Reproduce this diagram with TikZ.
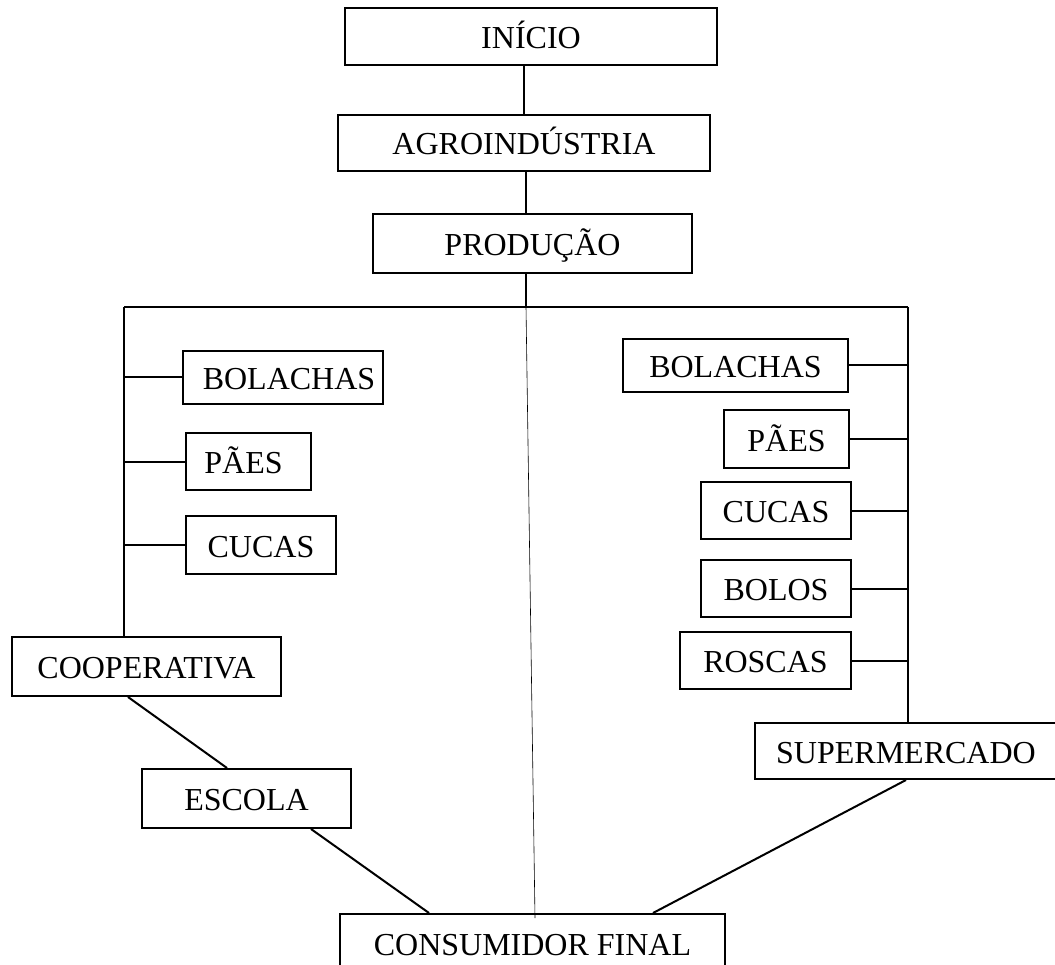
\documentclass[tikz,border=0pt]{standalone}
\usepackage{fontspec}
\setmainfont{Liberation Serif}
\tikzset{
  caixa/.style={draw, line width=2pt, inner sep=0pt, text height=24pt, text depth=0pt,
    font=\fontsize{32}{36}\selectfont},
  liga/.style={line width=2pt},
  fina/.style={line width=0.6pt}
}
\begin{document}
\begin{tikzpicture}[x=1pt, y=-1pt]
\useasboundingbox (0,0) rectangle (1055,965);
\clip (0,0) rectangle (1055,965);
% coluna central
\node[caixa, minimum width=372pt, minimum height=57pt] (inicio) at (531,36.5) {INÍCIO};
\node[caixa, minimum width=372pt, minimum height=56pt] (agro) at (524,143) {AGROINDÚSTRIA};
\node[caixa, minimum width=319pt, minimum height=59pt] (prod) at (532.5,243.5) {PRODUÇÃO};
\node[caixa, minimum width=385pt, minimum height=59pt] (consumidor) at (532.5,943.5) {CONSUMIDOR FINAL};
% lado da cooperativa
\node[caixa, minimum width=200pt, minimum height=53pt] (bolL) at (283,377.5) {\hspace*{12pt}BOLACHAS};
\node[caixa, minimum width=125pt, minimum height=57pt] (paesL) at (248.5,461.5) {PÃES\hspace*{10pt}};
\node[caixa, minimum width=150pt, minimum height=58pt] (cucasL) at (261,545) {CUCAS};
\node[caixa, minimum width=269pt, minimum height=59pt] (coop) at (146.5,666.5) {COOPERATIVA};
\node[caixa, minimum width=209pt, minimum height=59pt] (escola) at (246.5,798.5) {ESCOLA};
% lado do supermercado
\node[caixa, minimum width=225pt, minimum height=53pt] (bolR) at (735.5,365.5) {BOLACHAS};
\node[caixa, minimum width=125pt, minimum height=58pt] (paesR) at (786.5,439) {PÃES};
\node[caixa, minimum width=150pt, minimum height=57pt] (cucasR) at (776,510.5) {CUCAS};
\node[caixa, minimum width=150pt, minimum height=57pt] (bolos) at (776,588.5) {BOLOS};
\node[caixa, minimum width=171pt, minimum height=57pt] (roscas) at (765.5,660.5) {ROSCAS};
\node[caixa, minimum width=302pt, minimum height=56pt] (super) at (906,751) {SUPERMERCADO};
% barra de distribuicao
\coordinate (barraL) at (124,307);
\coordinate (barraM) at (526,307);
\coordinate (barraR) at (908,307);
\coordinate (fimM) at (535,918);
\draw[liga] (inicio.south -| agro.north) -- (agro.north);
\draw[liga] (agro.south -| barraM) -- (prod.north -| barraM);
\draw[liga] (prod.south -| barraM) -- (barraM);
\draw[liga] (barraL) -- (barraR);
\draw[liga] (barraL) -- (barraL |- coop.north);
\draw[liga] (barraR) -- (barraR |- super.north);
\draw[fina] (barraM) -- (fimM);
\foreach \n in {bolL,paesL,cucasL} \draw[liga] (barraL |- \n.west) -- (\n.west);
\foreach \n in {bolR,paesR,cucasR,bolos,roscas} \draw[liga] (\n.east) -- (barraR |- \n.east);
% ligacoes ao consumidor
\draw[liga] ([xshift=-18.5pt]coop.south) -- ([xshift=-19.5pt]escola.north);
\draw[liga] ([xshift=64.5pt]escola.south) -- ([xshift=-103.5pt]consumidor.north);
\draw[liga] (super.south) -- ([xshift=120.5pt]consumidor.north);
\end{tikzpicture}
\end{document}
